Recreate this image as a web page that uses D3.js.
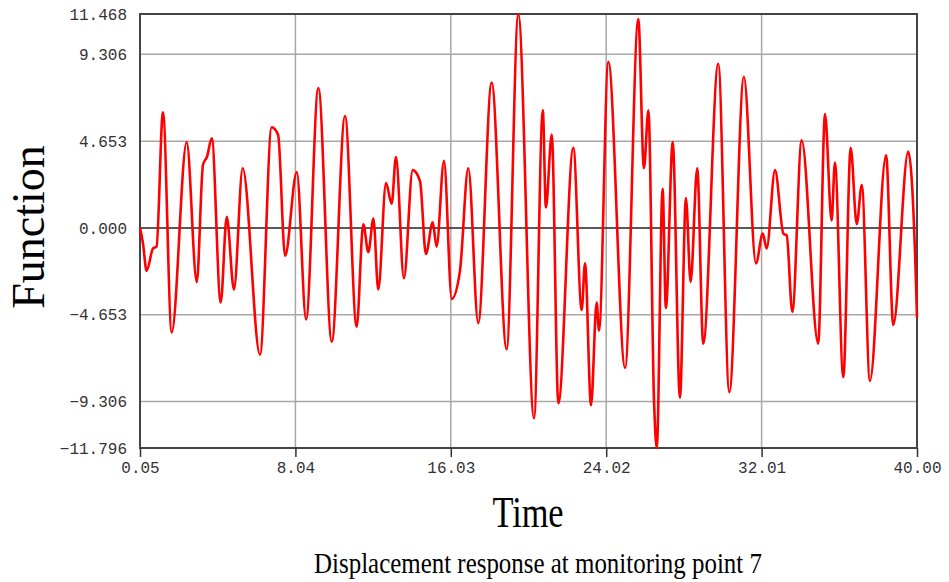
<!DOCTYPE html>
<html>
<head>
<meta charset="utf-8">
<script src="https://cdn.jsdelivr.net/npm/d3@7/dist/d3.min.js"></script>
<style>
  html, body { margin: 0; padding: 0; background: #fff; }
  svg { display: block; }
</style>
</head>
<body>
<svg id="chart" width="949" height="582"></svg>
<script>
// values (time in s, displacement)
const times = [0.05, 0.20, 0.39, 0.72, 0.90, 1.23, 1.68, 2.45, 2.97, 3.29, 3.49, 3.74, 4.20, 4.51, 4.88, 5.33,
  6.22, 6.82, 7.15, 7.51, 8.11, 8.59, 9.22, 9.91, 10.59, 11.19, 11.53, 11.79, 12.05, 12.30, 12.70, 12.99,
  13.21, 13.62, 14.07, 14.45, 14.75, 15.10, 15.30, 15.68, 16.08, 16.50, 16.93, 17.44, 18.13, 18.90, 19.50,
  20.31, 20.76, 20.92, 21.22, 21.56, 22.33, 22.76, 22.93, 23.24, 23.53, 23.65, 24.13, 24.99, 25.67, 25.96,
  26.19, 26.48, 26.62, 26.92, 27.09, 27.44, 27.81, 28.12, 28.36, 28.70, 29.01, 29.78, 30.35, 31.10, 31.72,
  32.07, 32.27, 32.70, 33.13, 33.30, 33.59, 34.07, 34.92, 35.27, 35.61, 35.78, 36.21, 36.59, 36.90, 37.16,
  37.58, 38.41, 38.78, 39.55, 39.95, 40.00];
const values = [0.0, -0.8, -2.3, -1.1, -1.0, 6.2, -5.6, 4.6, -2.9, 3.4, 3.8, 4.8, -4.0, 0.6, -3.3, 3.2,
  -6.8, 5.4, 5.0, -1.5, 3.0, -4.9, 7.5, -6.1, 6.0, -5.3, 0.2, -1.3, 0.5, -3.3, 2.4, 1.3,
  3.8, -2.7, 3.1, 2.5, -1.4, 0.3, -1.0, 3.6, -3.8, -2.3, 3.2, -5.1, 7.8, -6.5, 11.45,
  -10.2, 6.3, 1.1, 5.0, -9.4, 4.3, -4.4, -1.9, -9.5, -4.0, -5.5, 8.9, -7.5, 11.2, 3.2,
  6.3, -9.3, -11.8, 2.1, -4.3, 4.6, -9.1, 1.6, -2.9, 3.2, -6.2, 8.8, -8.8, 8.1, -1.9,
  -0.3, -1.1, 3.1, -0.3, -0.4, -4.5, 4.7, -6.2, 6.1, 0.4, 3.5, -8.0, 4.3, 0.2, 2.3,
  -8.2, 3.9, -5.2, 4.1, -3.0, -4.8];

const xTicks = [0.05, 8.04, 16.03, 24.02, 32.01, 40.00];
const yTicks = [11.468, 9.306, 4.653, 0.000, -4.653, -9.306, -11.796];

const svg = d3.select("#chart");
const margin = { top: 14, right: 32, bottom: 134, left: 140 };
const width = 949 - margin.left - margin.right;
const height = 582 - margin.top - margin.bottom;

const x = d3.scaleLinear().domain([0.05, 40]).range([0, width]);
const y = d3.scaleLinear().domain([-11.796, 11.468]).range([height, 0]);

const g = svg.append("g").attr("transform", `translate(${margin.left},${margin.top})`);

// grid
g.selectAll(".hgrid")
  .data(yTicks.filter(d => d !== 0 && d !== 11.468 && d !== -11.796))
  .enter().append("line")
  .attr("x1", 0).attr("x2", width)
  .attr("y1", d => y(d)).attr("y2", d => y(d))
  .attr("stroke", "#a8a8a8").attr("stroke-width", 1.5);

g.selectAll(".vgrid")
  .data(xTicks.slice(1, -1))
  .enter().append("line")
  .attr("x1", d => x(d)).attr("x2", d => x(d))
  .attr("y1", 0).attr("y2", height)
  .attr("stroke", "#a8a8a8").attr("stroke-width", 1.5);

// zero line
g.append("line")
  .attr("x1", 0).attr("x2", width)
  .attr("y1", y(0)).attr("y2", y(0))
  .attr("stroke", "#222").attr("stroke-width", 1.5);

// frame
g.append("rect")
  .attr("width", width).attr("height", height)
  .attr("fill", "none").attr("stroke", "#444").attr("stroke-width", 2);

// bottom axis with ticks below
const xAxis = g.append("g")
  .attr("transform", `translate(0,${height})`)
  .call(d3.axisBottom(x).tickValues(xTicks).tickSize(9).tickSizeOuter(0).tickFormat(d3.format(".2f")));
xAxis.select(".domain").remove();
xAxis.selectAll("line").attr("stroke", "#333").attr("stroke-width", 1.5);
xAxis.selectAll("text")
  .attr("y", 14)
  .style("font-family", "'Liberation Mono', 'DejaVu Sans Mono', monospace")
  .style("font-size", "16px")
  .attr("fill", "#333");

// left axis labels
const yAxis = g.append("g")
  .call(d3.axisLeft(y).tickValues(yTicks).tickSize(0).tickPadding(13).tickFormat(d3.format(".3f")));
yAxis.select(".domain").remove();
yAxis.selectAll("text")
  .style("font-family", "'Liberation Mono', 'DejaVu Sans Mono', monospace")
  .style("font-size", "16px")
  .attr("fill", "#333");

// signal
const line = d3.line()
  .x((d, i) => x(times[i]))
  .y(d => y(d))
  .curve(d3.curveMonotoneX);

g.append("path")
  .datum(values)
  .attr("fill", "none")
  .attr("stroke", "#ff0000")
  .attr("stroke-width", 2.6)
  .attr("stroke-linejoin", "round")
  .attr("d", line);

// titles
svg.append("text")
  .attr("transform", "translate(44,227) rotate(-90)")
  .attr("text-anchor", "middle")
  .style("font-family", "'Liberation Serif', 'Times New Roman', serif")
  .style("font-size", "46px")
  .text("Function");

svg.append("text")
  .attr("transform", "translate(528,527) scale(0.78,1)")
  .attr("text-anchor", "middle")
  .style("font-family", "'Liberation Serif', 'Times New Roman', serif")
  .style("font-size", "44px")
  .text("Time");

svg.append("text")
  .attr("transform", "translate(538,573) scale(0.86,1)")
  .attr("text-anchor", "middle")
  .style("font-family", "'Liberation Serif', 'Times New Roman', serif")
  .style("font-size", "29px")
  .text("Displacement response at monitoring point 7");
</script>
</body>
</html>
